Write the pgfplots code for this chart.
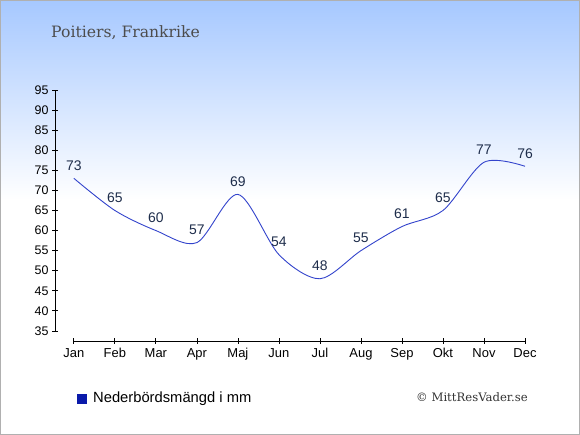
\documentclass[border=0pt]{standalone}
\usepackage{pgfplots}
\pgfplotsset{compat=1.18}
\usepackage{fontspec}
\setmainfont{Liberation Sans}
\setsansfont{Liberation Sans}
\newfontfamily\serifT{DejaVu Serif}
\definecolor{topc}{RGB}{166,200,255}
\definecolor{linec}{RGB}{51,68,204}
\definecolor{labc}{RGB}{30,45,75}
\definecolor{legc}{RGB}{10,26,170}
\definecolor{bordc}{RGB}{176,176,176}
\begin{document}
\begin{tikzpicture}[x=1bp,y=1bp]
\useasboundingbox (0,0) rectangle (580,435);
\fill[white] (0,0) rectangle (580,235);
\shade[top color=topc, bottom color=white] (0,235) rectangle (580,435);
\draw[bordc, line width=1bp] (0.5,0.5) rectangle (579.5,434.5);
\node[anchor=base west, text=black!70, inner sep=0pt, font=\serifT\fontsize{15.7}{17}\selectfont] at (51,397) {Poitiers, Frankrike};
\begin{axis}[
  at={(55bp,94bp)}, anchor=south west,
  scale only axis, width=470bp, height=251bp,
  xmin=-0.46, xmax=11, ymin=32.5, ymax=95,
  axis line style={draw=none},
  xtick={0,...,11},
  xticklabels={Jan,Feb,Mar,Apr,Maj,Jun,Jul,Aug,Sep,Okt,Nov,Dec},
  ytick={35,40,...,95},
  xtick pos=bottom, ytick pos=left,
  tick align=center, major tick length=6bp,
  tick style={black, line width=0.8bp},
  /pgf/number format/assume math mode=true,
  yticklabel style={font=\fontsize{12.5}{13}\selectfont, text=black},
  xticklabel style={font=\fontsize{13}{14}\selectfont, text=black, yshift=-1bp},
  clip=false,
]
\draw[black, line width=0.9bp] (axis cs:-0.46,35) -- (axis cs:-0.46,95);
\draw[black, line width=0.9bp] (axis cs:0,32.5) -- (axis cs:11,32.5);
\addplot[linec, line width=0.9bp, smooth, tension=0.5,
  nodes near coords,
  every node near coord/.style={anchor=center, yshift=13bp, text=labc, font=\fontsize{14}{15}\selectfont}]
  coordinates {(0,73) (1,65) (2,60) (3,57) (4,69) (5,54) (6,48) (7,55) (8,61) (9,65) (10,77) (11,76)};
\end{axis}
\fill[legc] (77,31) rectangle (87,41);
\node[anchor=base west, inner sep=0pt, font=\fontsize{14.8}{16}\selectfont] at (93,32.5) {Nederbördsmängd i mm};
\node[anchor=base east, inner sep=0pt, text=black!80, font=\serifT\fontsize{11.7}{14}\selectfont] at (528,33.3) {© MittResVader.se};
\end{tikzpicture}
\end{document}
